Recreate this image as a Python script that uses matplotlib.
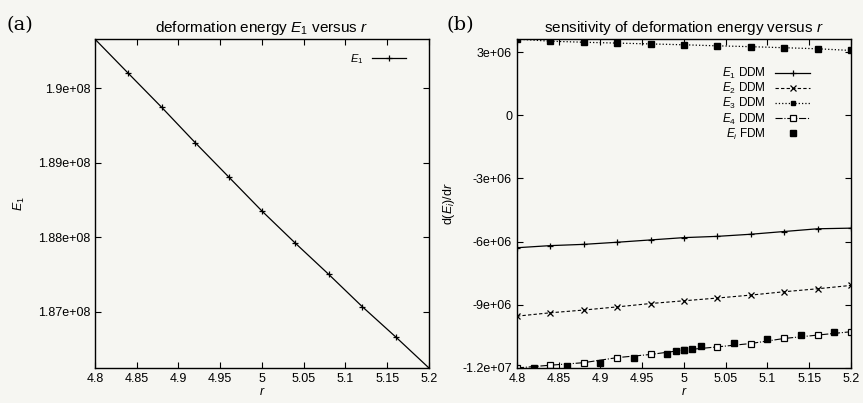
import matplotlib
matplotlib.use("Agg")
import matplotlib.pyplot as plt
from matplotlib.ticker import FuncFormatter, MultipleLocator

# Panel (a): deformation energy E1 versus r
r_a = [4.8, 4.84, 4.88, 4.92, 4.96, 5.0, 5.04, 5.08, 5.12, 5.16, 5.2]
e1 = [1.90660e8, 1.90200e8, 1.89743e8, 1.89270e8, 1.88811e8, 1.88351e8,
      1.87919e8, 1.87500e8, 1.87068e8, 1.86662e8, 1.86243e8]

# Panel (b): sensitivities (DDM every 0.04)
r_b = [4.8, 4.84, 4.88, 4.92, 4.96, 5.0, 5.04, 5.08, 5.12, 5.16, 5.2]
e1_ddm = [-6.29e6, -6.19e6, -6.13e6, -6.03e6, -5.92e6, -5.81e6,
          -5.75e6, -5.65e6, -5.52e6, -5.39e6, -5.36e6]
e2_ddm = [-9.54e6, -9.38e6, -9.25e6, -9.10e6, -8.94e6, -8.81e6,
          -8.68e6, -8.54e6, -8.38e6, -8.24e6, -8.08e6]
e3_ddm = [3.62e6, 3.52e6, 3.47e6, 3.43e6, 3.39e6, 3.35e6,
          3.30e6, 3.26e6, 3.21e6, 3.16e6, 3.08e6]
e4_ddm = [-12.00e6, -11.87e6, -11.75e6, -11.51e6, -11.36e6, -11.15e6,
          -11.00e6, -10.84e6, -10.60e6, -10.44e6, -10.28e6]
# finite-difference check values
r_fdm = r_b + [4.82, 4.86, 4.9, 4.94, 4.98, 4.99, 5.0, 5.01, 5.02,
               5.06, 5.1, 5.14, 5.18]
e_fdm = e3_ddm + [-11.98e6, -11.90e6, -11.75e6, -11.52e6, -11.36e6, -11.20e6,
                  -11.15e6, -11.12e6, -10.96e6, -10.80e6, -10.63e6, -10.44e6,
                  -10.28e6]

bg = "#f6f6f2"
plt.rcParams.update({
    "font.family": ["Liberation Sans", "DejaVu Sans"],
    "mathtext.fontset": "custom",
    "mathtext.it": "Liberation Sans:italic",
    "mathtext.rm": "Liberation Sans",
    "font.size": 9,
    "axes.linewidth": 1.0,
    "xtick.direction": "in",
    "ytick.direction": "in",
    "xtick.top": True,
    "ytick.right": True,
    "xtick.major.size": 4,
    "ytick.major.size": 4,
})

fmt = FuncFormatter(lambda v, pos: "%g" % v)

fig = plt.figure(figsize=(8.63, 4.03), dpi=100, facecolor=bg)

# (a)
ax_a = fig.add_axes([0.110, 0.087, 0.387, 0.816])
ax_a.set_facecolor(bg)
ax_a.plot(r_a, e1, "-", color="black", lw=0.9, marker="+", ms=5, mew=0.9,
          label="$E_1$")
ax_a.set_xlim(4.8, 5.2)
ax_a.set_ylim(min(e1), max(e1))
ax_a.xaxis.set_major_locator(MultipleLocator(0.05))
ax_a.yaxis.set_major_locator(MultipleLocator(1e6))
ax_a.xaxis.set_major_formatter(fmt)
ax_a.yaxis.set_major_formatter(fmt)
ax_a.set_title("deformation energy $E_1$ versus $r$", fontsize=11, pad=5)
ax_a.set_xlabel("$r$", fontsize=9, labelpad=1)
ax_a.set_ylabel("$E_1$", fontsize=9, labelpad=8)
ax_a.legend(loc="upper right", frameon=False, markerfirst=False,
            handlelength=3, fontsize=8, bbox_to_anchor=(0.96, 0.99))

# (b)
ax_b = fig.add_axes([0.599, 0.087, 0.387, 0.816])
ax_b.set_facecolor(bg)
ax_b.plot(r_b, e1_ddm, "-", color="black", lw=0.9, marker="+", ms=5, mew=0.9,
          label="$E_1$ DDM")
ax_b.plot(r_b, e2_ddm, "--", color="black", lw=0.8, marker="x", ms=4, mew=0.9,
          dashes=(3, 2), label="$E_2$ DDM")
ax_b.plot(r_b, e3_ddm, ":", color="black", lw=0.9, marker="s", ms=3.5,
          label="$E_3$ DDM")
ax_b.plot(r_b, e4_ddm, "-.", color="black", lw=0.8, marker="s", ms=5,
          mfc="white", mew=0.9, label="$E_4$ DDM")
ax_b.plot(r_fdm, e_fdm, "s", color="black", ms=4.5, ls="none",
          label="$E_i$ FDM")
ax_b.set_xlim(4.8, 5.2)
ax_b.set_ylim(-1.2e7, max(e3_ddm))
ax_b.xaxis.set_major_locator(MultipleLocator(0.05))
ax_b.yaxis.set_major_locator(MultipleLocator(3e6))
ax_b.xaxis.set_major_formatter(fmt)
ax_b.yaxis.set_major_formatter(fmt)
ax_b.set_title("sensitivity of deformation energy versus $r$", fontsize=11, pad=5)
ax_b.set_xlabel("$r$", fontsize=9, labelpad=1)
ax_b.set_ylabel("d($E_i$)/d$r$", fontsize=9, labelpad=4)
ax_b.legend(loc="upper right", frameon=False, markerfirst=False,
            handlelength=3, fontsize=8.5, labelspacing=0.0,
            bbox_to_anchor=(0.91, 0.95))

fig.text(0.008, 0.925, "(a)", fontsize=14, family="DejaVu Serif")
fig.text(0.517, 0.925, "(b)", fontsize=14, family="DejaVu Serif")

fig.savefig("out.png", dpi=100, facecolor=bg)
